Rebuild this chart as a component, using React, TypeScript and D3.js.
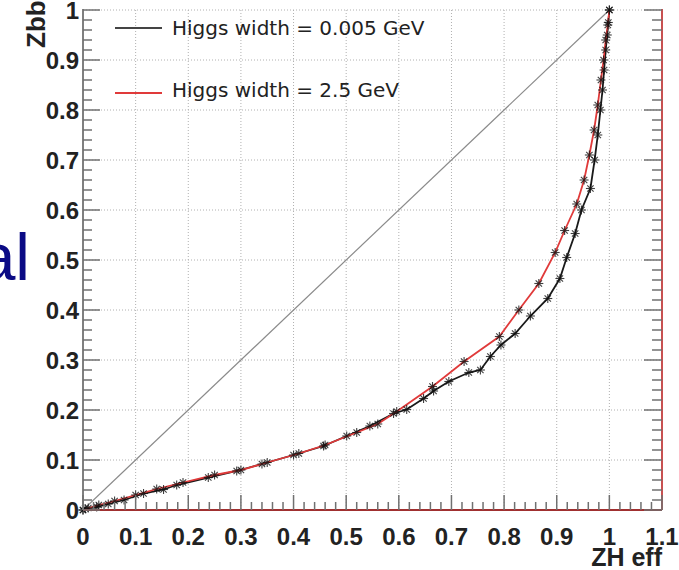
import React from "react";
import * as d3 from "d3";

// Data
const blackX = [0, 0.004, 0.026, 0.048, 0.078, 0.115, 0.153, 0.178, 0.238, 0.292, 0.34, 0.4, 0.457, 0.501, 0.545, 0.59, 0.615, 0.647, 0.666, 0.695, 0.733, 0.755, 0.774, 0.794, 0.821, 0.85, 0.883, 0.906, 0.919, 0.935, 0.947, 0.964, 0.972, 0.978, 0.983, 0.987, 0.99, 0.993, 0.996, 0.998, 1.0];
const blackY = [0, 0.003, 0.006, 0.012, 0.02, 0.033, 0.041, 0.05, 0.065, 0.078, 0.092, 0.11, 0.128, 0.148, 0.168, 0.193, 0.201, 0.223, 0.238, 0.257, 0.275, 0.28, 0.307, 0.33, 0.353, 0.388, 0.423, 0.463, 0.505, 0.553, 0.6, 0.643, 0.7, 0.75, 0.8, 0.84, 0.88, 0.92, 0.95, 0.975, 1.0];

const redX = [0, 0.01, 0.03, 0.06, 0.1, 0.14, 0.19, 0.25, 0.3, 0.35, 0.41, 0.46, 0.52, 0.56, 0.596, 0.664, 0.724, 0.791, 0.828, 0.866, 0.897, 0.915, 0.938, 0.952, 0.962, 0.971, 0.978, 0.984, 0.989, 0.993, 0.997, 1.0];
const redY = [0, 0.004, 0.01, 0.018, 0.03, 0.042, 0.055, 0.07, 0.08, 0.095, 0.113, 0.13, 0.155, 0.172, 0.197, 0.247, 0.297, 0.347, 0.4, 0.453, 0.515, 0.559, 0.612, 0.66, 0.71, 0.76, 0.81, 0.86, 0.9, 0.94, 0.97, 1.0];

const diagX = [0, 1];
const diagY = [0, 1];

const xTicks = [0, 0.1, 0.2, 0.3, 0.4, 0.5, 0.6, 0.7, 0.8, 0.9, 1.0, 1.1];
const xTickLabels = ["0", "0.1", "0.2", "0.3", "0.4", "0.5", "0.6", "0.7", "0.8", "0.9", "1", "1.1"];
const yTicks = [0, 0.1, 0.2, 0.3, 0.4, 0.5, 0.6, 0.7, 0.8, 0.9, 1.0];
const yTickLabels = ["0", "0.1", "0.2", "0.3", "0.4", "0.5", "0.6", "0.7", "0.8", "0.9", "1"];

const legendLabels = ["Higgs width = 0.005 GeV", "Higgs width = 2.5 GeV"];
const xTitle = "ZH eff";
const yTitle = "Zbb eff";
const sideText = "al";

export default function App() {
  const W = 679, H = 570;
  const x = d3.scaleLinear().domain([0, 1.1]).range([83, 662]);
  const y = d3.scaleLinear().domain([0, 1.0]).range([510, 10]);

  const line = d3.line<[number, number]>().x(d => x(d[0])).y(d => y(d[1])).curve(d3.curveLinear);
  const black = blackX.map((v, i) => [v, blackY[i]] as [number, number]);
  const red = redX.map((v, i) => [v, redY[i]] as [number, number]);
  const diag = diagX.map((v, i) => [v, diagY[i]] as [number, number]);

  const minorX = d3.range(0, 111).filter(i => i % 2 === 0 && i % 10 !== 0).map(i => i / 100);
  const minorY = d3.range(0, 101).filter(i => i % 2 === 0 && i % 10 !== 0).map(i => i / 100);

  const star = (cx: number, cy: number, key: string) => {
    const r = 4.5;
    const d = r * 0.707;
    return (
      <g key={key} stroke="#111" strokeWidth={1.1} opacity={0.8}>
        <line x1={cx - r} y1={cy} x2={cx + r} y2={cy} />
        <line x1={cx} y1={cy - r} x2={cx} y2={cy + r} />
        <line x1={cx - d} y1={cy - d} x2={cx + d} y2={cy + d} />
        <line x1={cx - d} y1={cy + d} x2={cx + d} y2={cy - d} />
      </g>
    );
  };

  const tickFont = "'Liberation Sans', Arial, Helvetica, sans-serif";
  const gridCol = "#b0b0b0";

  return (
    <svg width={W} height={H} style={{ position: "absolute", left: 0, top: 0, background: "#fff" }}>
      <rect x={0} y={0} width={W} height={H} fill="#fff" />
      {/* side text */}
      <text x={30} y={280} textAnchor="end" fontFamily={tickFont} fontSize={66} fill="#0b0b85">{sideText}</text>

      {/* grid */}
      {xTicks.filter(t => t > 0 && t < 1.05).map(t => (
        <line key={"gx" + t} x1={x(t)} x2={x(t)} y1={y(1)} y2={y(0)} stroke={gridCol} strokeWidth={1} strokeDasharray="1,2" />
      ))}
      {yTicks.filter(t => t > 0).map(t => (
        <line key={"gy" + t} x1={x(0)} x2={x(1.1)} y1={y(t)} y2={y(t)} stroke={gridCol} strokeWidth={1} strokeDasharray="1,2" />
      ))}

      {/* diagonal */}
      <path d={line(diag) || ""} fill="none" stroke="#8a8a8a" strokeWidth={1.2} />

      {/* curves */}
      <path d={line(black) || ""} fill="none" stroke="#1a1a1a" strokeWidth={1.8} />
      <path d={line(red) || ""} fill="none" stroke="#e03a3a" strokeWidth={1.8} />
      {black.map((p, i) => star(x(p[0]), y(p[1]), "b" + i))}
      {red.map((p, i) => star(x(p[0]), y(p[1]), "r" + i))}

      {/* frame */}
      <line x1={x(0)} x2={x(1.1)} y1={y(0)} y2={y(0)} stroke="#a03030" strokeWidth={2} />
      <line x1={x(1.1)} x2={x(1.1)} y1={y(1) - 1} y2={y(0)} stroke="#c85050" strokeWidth={2} />
      <line x1={x(0)} x2={x(0)} y1={y(1) - 1} y2={y(0)} stroke="#808080" strokeWidth={2} />

      {/* x ticks */}
      {xTicks.map(t => (
        <line key={"xt" + t} x1={x(t)} x2={x(t)} y1={y(0)} y2={y(0) - 15} stroke="#707070" strokeWidth={1.5} />
      ))}
      {minorX.map(t => (
        <line key={"xm" + t} x1={x(t)} x2={x(t)} y1={y(0)} y2={y(0) - 8} stroke="#707070" strokeWidth={1.5} />
      ))}
      {/* y ticks left */}
      {yTicks.map(t => (
        <line key={"yt" + t} x1={x(0)} x2={x(0) + 17} y1={y(t)} y2={y(t)} stroke="#707070" strokeWidth={1.5} />
      ))}
      {minorY.map(t => (
        <line key={"ym" + t} x1={x(0)} x2={x(0) + 9} y1={y(t)} y2={y(t)} stroke="#707070" strokeWidth={1.5} />
      ))}
      {/* y ticks right */}
      {yTicks.map(t => (
        <line key={"yr" + t} x1={x(1.1)} x2={x(1.1) - 18} y1={y(t)} y2={y(t)} stroke="#707070" strokeWidth={1.5} />
      ))}
      {minorY.map(t => (
        <line key={"yrm" + t} x1={x(1.1)} x2={x(1.1) - 10} y1={y(t)} y2={y(t)} stroke="#707070" strokeWidth={1.5} />
      ))}

      {/* tick labels */}
      {xTicks.map((t, i) => (
        <text key={"xl" + t} x={x(t)} y={545} textAnchor="middle" fontFamily={tickFont} fontWeight="bold" fontSize={24} fill="#222">{xTickLabels[i]}</text>
      ))}
      {yTicks.map((t, i) => (
        <text key={"yl" + t} x={79} y={y(t) + 8.5} textAnchor="end" fontFamily={tickFont} fontWeight="bold" fontSize={24} fill="#222">{yTickLabels[i]}</text>
      ))}

      {/* axis titles */}
      <text x={662} y={566} textAnchor="end" fontFamily={tickFont} fontWeight="bold" fontSize={25} fill="#222">{xTitle}</text>
      <text transform="translate(45,48) rotate(-90)" textAnchor="start" fontFamily={tickFont} fontWeight="bold" fontSize={26} fill="#222">{yTitle}</text>

      {/* legend */}
      <line x1={115} x2={162} y1={28} y2={28} stroke="#444" strokeWidth={1.8} />
      <text x={172} y={35} fontFamily="'DejaVu Sans', sans-serif" fontSize={20} fill="#222">{legendLabels[0]}</text>
      <line x1={115} x2={162} y1={93} y2={93} stroke="#e03a3a" strokeWidth={1.8} />
      <text x={172} y={97} fontFamily="'DejaVu Sans', sans-serif" fontSize={20} fill="#222">{legendLabels[1]}</text>
    </svg>
  );
}
